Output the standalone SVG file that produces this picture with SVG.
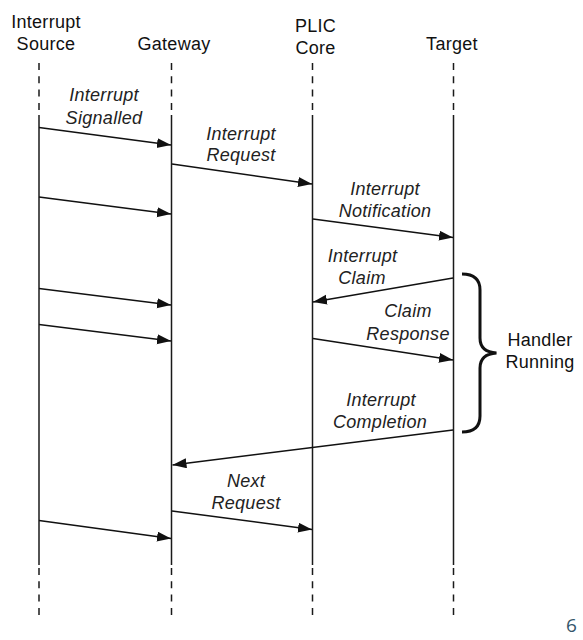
<svg xmlns="http://www.w3.org/2000/svg" width="583" height="640" viewBox="0 0 583 640">
<defs>
<marker id="ah" markerUnits="userSpaceOnUse" markerWidth="15" markerHeight="11" refX="14" refY="5" orient="auto">
<path d="M0,0 L14,5 L0,10 z" fill="#111"/>
</marker>
<style>
.hd{font-family:"Liberation Sans",Arial,sans-serif;font-size:18px;fill:#111;text-anchor:middle;letter-spacing:0.3px}
.lb{font-family:"Liberation Sans",Arial,sans-serif;font-size:18px;font-style:italic;fill:#222;text-anchor:middle;letter-spacing:0.3px}
.life{stroke:#1a1a1a;stroke-width:1.5;fill:none}
.dash{stroke:#1a1a1a;stroke-width:1.5;fill:none;stroke-dasharray:7 6.3}
.msg{stroke:#111;stroke-width:1.5;fill:none;marker-end:url(#ah)}
</style>
</defs>
<rect width="583" height="640" fill="#fff"/>
<g id="source">
<text class="hd" x="46" y="27.5">Interrupt</text>
<text class="hd" x="46" y="50">Source</text>
<line class="dash" x1="39" y1="63" x2="39" y2="112"/>
<line class="life" x1="39" y1="115" x2="39" y2="565"/>
<line class="dash" x1="39" y1="568" x2="39" y2="617"/>
</g>
<g id="gateway">
<text class="hd" x="174" y="50">Gateway</text>
<line class="dash" x1="171.5" y1="63" x2="171.5" y2="112"/>
<line class="life" x1="171.5" y1="115" x2="171.5" y2="565"/>
<line class="dash" x1="171.5" y1="568" x2="171.5" y2="617"/>
</g>
<g id="plic">
<text class="hd" x="315.5" y="32">PLIC</text>
<text class="hd" x="315.5" y="54">Core</text>
<line class="dash" x1="312.5" y1="63" x2="312.5" y2="112"/>
<line class="life" x1="312.5" y1="115" x2="312.5" y2="565"/>
<line class="dash" x1="312.5" y1="568" x2="312.5" y2="617"/>
</g>
<g id="target">
<text class="hd" x="452" y="50">Target</text>
<line class="dash" x1="453.5" y1="63" x2="453.5" y2="112"/>
<line class="life" x1="453.5" y1="115" x2="453.5" y2="565"/>
<line class="dash" x1="453.5" y1="568" x2="453.5" y2="617"/>
</g>
<g id="connectors">
<line class="msg" x1="39" y1="127.5" x2="171" y2="145"/>
<line class="msg" x1="172" y1="164" x2="312" y2="184"/>
<line class="msg" x1="39" y1="197" x2="171" y2="214"/>
<line class="msg" x1="313" y1="219" x2="453" y2="237.5"/>
<line class="msg" x1="453" y1="278" x2="313" y2="302"/>
<line class="msg" x1="39" y1="288.5" x2="171" y2="305"/>
<line class="msg" x1="39" y1="324.5" x2="171" y2="341"/>
<line class="msg" x1="313" y1="338.5" x2="453" y2="360"/>
<line class="msg" x1="453" y1="430" x2="172.5" y2="465"/>
<line class="msg" x1="172" y1="511" x2="312" y2="529.5"/>
<line class="msg" x1="39" y1="520.5" x2="171" y2="538.5"/>
</g>
<g id="labels">
<text class="lb" x="104" y="101">Interrupt</text>
<text class="lb" x="104" y="124">Signalled</text>
<text class="lb" x="241" y="139.5">Interrupt</text>
<text class="lb" x="241" y="161">Request</text>
<text class="lb" x="385" y="195">Interrupt</text>
<text class="lb" x="385" y="216.5">Notification</text>
<text class="lb" x="362.5" y="261.5">Interrupt</text>
<text class="lb" x="362" y="284">Claim</text>
<text class="lb" x="408" y="317">Claim</text>
<text class="lb" x="408" y="340">Response</text>
<text class="lb" x="381" y="406">Interrupt</text>
<text class="lb" x="380" y="428">Completion</text>
<text class="lb" x="246" y="486.5">Next</text>
<text class="lb" x="246" y="509">Request</text>
</g>
<g id="handler">
<path d="M462,274 Q480,274 480,290 L480,338 Q480,352 496.5,353 Q480,354 480,368 L480,416 Q480,432 462,432" fill="none" stroke="#111" stroke-width="3"/>
<text class="hd" x="540" y="345.5">Handler</text>
<text class="hd" x="540" y="368">Running</text>
</g>
<text x="566" y="632" font-family="'Open Sans','DejaVu Sans',sans-serif" font-size="19" fill="#34566b">6</text>
</svg>
